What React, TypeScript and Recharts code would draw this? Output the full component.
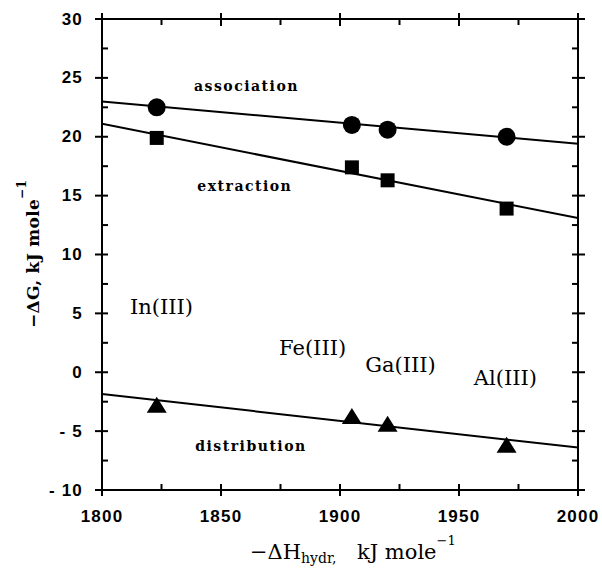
import React from 'react';
import { ComposedChart, XAxis, YAxis, Line, Scatter, ReferenceLine, ReferenceDot } from 'recharts';

// ---- data ----
const metals = ['In(III)', 'Fe(III)', 'Ga(III)', 'Al(III)'];
const hydrationEnthalpy = [1823, 1905, 1920, 1970];
const association = [22.5, 21.0, 20.6, 20.0];
const extraction = [19.9, 17.4, 16.3, 13.9];
const distribution = [-2.85, -3.8, -4.45, -6.25];

const fitX = [1800, 2000];
const associationFit = [23.0, 19.4];
const extractionFit = [21.1, 13.1];
const distributionFit = [-1.85, -6.4];

const xTicks = [1800, 1825, 1850, 1875, 1900, 1925, 1950, 1975, 2000];
const yTicks = [-10, -7.5, -5, -2.5, 0, 2.5, 5, 7.5, 10, 12.5, 15, 17.5, 20, 22.5, 25, 27.5, 30];

const seriesLabels = ['association', 'extraction', 'distribution'];
const seriesLabelX = [1860.7, 1860, 1862.6];
const seriesLabelY = [24.3, 15.8, -6.3];
const metalLabelX = [1825, 1888.5, 1925.4, 1969.5];
const metalLabelY = [5.5, 2.1, 0.65, -0.45];

// ---- layout ----
const W = 602;
const H = 568;
const LEFT = 102;
const TOP = 19;
const RIGHT_M = 24;
const X_AXIS_H = 78;
const PLOT_W = W - LEFT - RIGHT_M;
const PLOT_H = H - TOP - X_AXIS_H;

const pts = (ys: number[]) => hydrationEnthalpy.map((x, i) => ({ x, y: ys[i], name: metals[i] }));
const fit = (ys: number[]) => fitX.map((x, i) => ({ x, y: ys[i] }));

const TICK_FONT = { fontFamily: 'Liberation Sans, Arial, sans-serif', fontWeight: 700, fontSize: 17, letterSpacing: 1.2 };

const XTick = (props: any) => {
  const { x, y, payload } = props;
  const v = payload.value;
  const major = v % 50 === 0;
  const top = y - PLOT_H;
  return (
    <g stroke="#000" strokeWidth={2}>
      {major ? <line x1={x} x2={x} y1={y - 6} y2={y + 6} /> : <line x1={x} x2={x} y1={y} y2={y - 6} />}
      {major ? <line x1={x} x2={x} y1={top - 6} y2={top + 7} /> : <line x1={x} x2={x} y1={top} y2={top + 6} />}
      {major && (
        <text x={x} y={y + 26} textAnchor="middle" dominantBaseline="central" stroke="none" fill="#000" {...TICK_FONT}>
          {v}
        </text>
      )}
    </g>
  );
};

const YTick = (props: any) => {
  const { x, y, payload } = props;
  const v = payload.value;
  const major = v % 5 === 0;
  const right = x + PLOT_W;
  return (
    <g stroke="#000" strokeWidth={2}>
      {major ? <line x1={x - 7} x2={x + 6} y1={y} y2={y} /> : <line x1={x} x2={x + 6} y1={y} y2={y} />}
      {major ? <line x1={right - 6} x2={right + 7} y1={y} y2={y} /> : <line x1={right - 6} x2={right} y1={y} y2={y} />}
      {major && (
        <text x={x - 19} y={y} textAnchor="end" dominantBaseline="central" stroke="none" fill="#000" {...TICK_FONT}>
          {v < 0 ? '- ' + Math.abs(v) : v}
        </text>
      )}
    </g>
  );
};

const XTitle = () => (
  <text x={250} y={559} fontFamily="DejaVu Serif, serif" fontSize={21} fill="#000">
    −ΔH
    <tspan fontSize={14} dy={4}>hydr,</tspan>
    <tspan x={357} dy={-4}>kJ mole</tspan>
    <tspan fontSize={13} dy={-14}>−1</tspan>
  </text>
);

const YTitle = () => (
  <text transform="translate(39,254) rotate(-90)" x={0} y={0} textAnchor="middle" fontFamily="DejaVu Serif, serif" fontWeight={700} fontSize={17} letterSpacing={0.3} fill="#000">
    −ΔG, kJ mole
    <tspan fontSize={12} dy={-13}>−1</tspan>
  </text>
);

const circleShape = (p: any) => <circle cx={p.cx} cy={p.cy} r={9} fill="#000" />;
const squareShape = (p: any) => <rect x={p.cx - 7} y={p.cy - 7} width={14} height={14} fill="#000" />;
const triangleShape = (p: any) => (
  <polygon points={`${p.cx},${p.cy - 9} ${p.cx + 10},${p.cy + 7} ${p.cx - 10},${p.cy + 7}`} fill="#000" />
);

const textShape = (label: string, font: any) => (p: any) => (
  <text x={p.cx} y={p.cy} textAnchor="middle" dominantBaseline="central" fill="#000" {...font}>
    {label}
  </text>
);

const SERIES_FONT = { fontFamily: 'DejaVu Serif, serif', fontWeight: 700, fontSize: 14, letterSpacing: 1.5 };
const METAL_FONT = { fontFamily: 'DejaVu Serif, serif', fontWeight: 400, fontSize: 21 };

export default function App() {
  return (
    <div style={{ position: 'absolute', left: 0, top: 0, width: W, height: H, background: '#fff' }}>
      <ComposedChart width={W} height={H} margin={{ top: TOP, right: RIGHT_M, left: 0, bottom: 0 }}>
        <XAxis
          dataKey="x"
          type="number"
          domain={[1800, 2000]}
          ticks={xTicks}
          interval={0}
          height={X_AXIS_H}
          tickSize={0}
          tickMargin={0}
          tickLine={false}
          tick={<XTick />}
          axisLine={{ stroke: '#000', strokeWidth: 2 }}
          allowDataOverflow
          label={{ content: <XTitle /> }}
        />
        <YAxis
          dataKey="y"
          type="number"
          domain={[-10, 30]}
          ticks={yTicks}
          interval={0}
          width={LEFT}
          tickSize={0}
          tickMargin={0}
          tickLine={false}
          tick={<YTick />}
          axisLine={{ stroke: '#000', strokeWidth: 2 }}
          allowDataOverflow
          label={{ content: <YTitle /> }}
        />
        <ReferenceLine y={30} stroke="#000" strokeWidth={2} />
        <ReferenceLine x={2000} stroke="#000" strokeWidth={2} />

        <Line data={fit(associationFit)} dataKey="y" type="linear" stroke="#000" strokeWidth={2} dot={false} isAnimationActive={false} />
        <Line data={fit(extractionFit)} dataKey="y" type="linear" stroke="#000" strokeWidth={2} dot={false} isAnimationActive={false} />
        <Line data={fit(distributionFit)} dataKey="y" type="linear" stroke="#000" strokeWidth={2} dot={false} isAnimationActive={false} />

        <Scatter data={pts(association)} dataKey="y" shape={circleShape} isAnimationActive={false} />
        <Scatter data={pts(extraction)} dataKey="y" shape={squareShape} isAnimationActive={false} />
        <Scatter data={pts(distribution)} dataKey="y" shape={triangleShape} isAnimationActive={false} />

        {seriesLabels.map((s, i) => (
          <ReferenceDot key={s} x={seriesLabelX[i]} y={seriesLabelY[i]} r={0} shape={textShape(s, SERIES_FONT)} />
        ))}
        {metals.map((m, i) => (
          <ReferenceDot key={m} x={metalLabelX[i]} y={metalLabelY[i]} r={0} shape={textShape(m, METAL_FONT)} />
        ))}
      </ComposedChart>
    </div>
  );
}
